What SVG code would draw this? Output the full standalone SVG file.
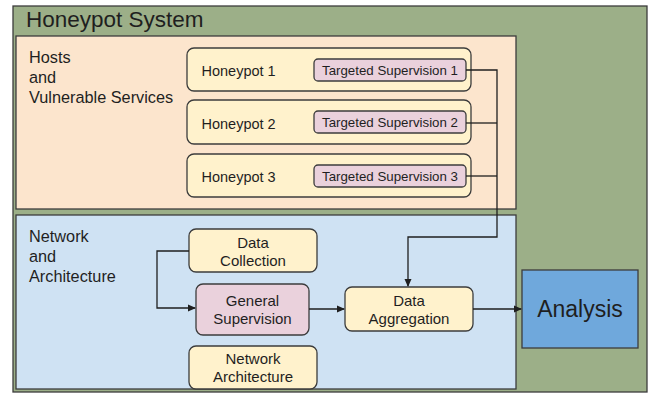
<svg xmlns="http://www.w3.org/2000/svg" width="651" height="393" viewBox="0 0 651 393">
<style>
text{font-family:"Liberation Sans",Arial,sans-serif;fill:#1f1f1f}
.box{fill:#fff2cc;stroke:#3c3c3c;stroke-width:1.3}
.pink{fill:#ead1dc;stroke:#3c3c3c;stroke-width:1.3}
.grp{font-size:16.3px}
.lbl{font-size:14.5px}
.bl{font-size:15px}
.ts{font-size:13.3px}
.c{text-anchor:middle}
.ln{fill:none;stroke:#1f1f1f;stroke-width:1.3}
</style>
<defs>
<marker id="ah" markerWidth="8" markerHeight="8" refX="7" refY="4" orient="auto" markerUnits="userSpaceOnUse">
<path d="M0,0.5 L8,4 L0,7.5 Z" fill="#1f1f1f"/>
</marker>
</defs>
<rect width="651" height="393" fill="#ffffff"/>
<g id="honeypot-system">
<rect x="13" y="6" width="634" height="386" fill="#9caf88" stroke="#3c3c3c" stroke-width="1.3"/>
<text x="26" y="26.7" font-size="22.5">Honeypot System</text>
</g>
<g id="hosts">
<rect x="16" y="36" width="500" height="173" fill="#fce5cd" stroke="#3c3c3c" stroke-width="1.3"/>
<text x="29" y="63.3" class="grp">Hosts</text>
<text x="29" y="83.3" class="grp">and</text>
<text x="29" y="103.3" class="grp">Vulnerable Services</text>
</g>
<g id="network">
<rect x="16" y="215" width="500" height="174" fill="#cfe2f3" stroke="#3c3c3c" stroke-width="1.3"/>
<text x="29" y="242.3" class="grp">Network</text>
<text x="29" y="262.3" class="grp">and</text>
<text x="29" y="282.3" class="grp">Architecture</text>
</g>
<g id="honeypot1">
<rect x="187" y="48" width="284" height="43" rx="7" class="box"/>
<text x="201.5" y="76" class="lbl">Honeypot 1</text>
</g>
<g id="ts1">
<rect x="314" y="59" width="152" height="22" rx="4" class="pink"/>
<text x="390" y="75" class="ts c">Targeted Supervision 1</text>
</g>
<g id="honeypot2">
<rect x="187" y="100" width="284" height="44" rx="7" class="box"/>
<text x="201.5" y="128.5" class="lbl">Honeypot 2</text>
</g>
<g id="ts2">
<rect x="314" y="111" width="152" height="22" rx="4" class="pink"/>
<text x="390" y="127" class="ts c">Targeted Supervision 2</text>
</g>
<g id="honeypot3">
<rect x="187" y="154" width="284" height="43" rx="7" class="box"/>
<text x="201.5" y="181.5" class="lbl">Honeypot 3</text>
</g>
<g id="ts3">
<rect x="314" y="165" width="152" height="22" rx="4" class="pink"/>
<text x="390" y="181" class="ts c">Targeted Supervision 3</text>
</g>
<g id="data-collection">
<rect x="189" y="229" width="128" height="43" rx="7" class="box"/>
<text x="253" y="247.7" class="bl c">Data</text>
<text x="253" y="265.7" class="bl c">Collection</text>
</g>
<g id="general-supervision">
<rect x="196" y="284" width="113" height="51" rx="7" class="pink"/>
<text x="252.5" y="306" class="bl c">General</text>
<text x="252.5" y="324" class="bl c">Supervision</text>
</g>
<g id="network-architecture">
<rect x="189" y="346" width="128" height="43" rx="7" class="box"/>
<text x="253" y="364.3" class="bl c">Network</text>
<text x="253" y="382" class="bl c">Architecture</text>
</g>
<g id="data-aggregation">
<rect x="345" y="287" width="128" height="44" rx="7" class="box"/>
<text x="409" y="306" class="bl c">Data</text>
<text x="409" y="324" class="bl c">Aggregation</text>
</g>
<g id="analysis">
<rect x="522" y="270" width="116" height="78" fill="#6fa8dc" stroke="#3c3c3c" stroke-width="1.3"/>
<text x="580" y="316.7" font-size="23" class="c">Analysis</text>
</g>
<g id="connectors">
<path class="ln" d="M466,70 H497 V237 H408 V286" marker-end="url(#ah)"/>
<path class="ln" d="M466,123 H497"/>
<path class="ln" d="M466,176 H497"/>
<path class="ln" d="M189,251 H157 V308 H195" marker-end="url(#ah)"/>
<path class="ln" d="M309,309 H344" marker-end="url(#ah)"/>
<path class="ln" d="M473,309 H521" marker-end="url(#ah)"/>
</g>
</svg>
